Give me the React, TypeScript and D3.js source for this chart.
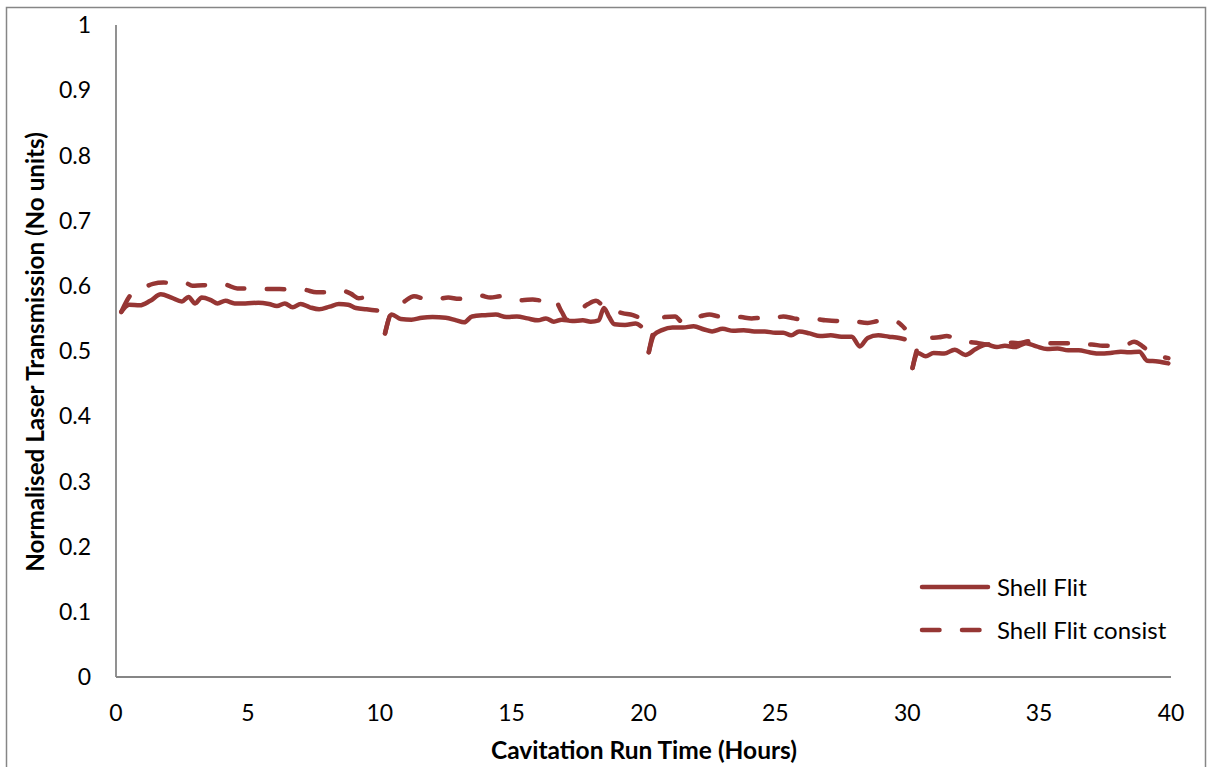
import React from "react";
import * as d3 from "d3";

const xTicks = [0, 5, 10, 15, 20, 25, 30, 35, 40];
const yTicks = [0, 0.1, 0.2, 0.3, 0.4, 0.5, 0.6, 0.7, 0.8, 0.9, 1];
const seriesNames = ["Shell Flit", "Shell Flit consist"];

// NaN separates the four run blocks (0-10, 10-20, 20-30, 30-40 h)
const solidHours = [
  0.2, 0.5, 0.9, 1.3, 1.7, 2.1, 2.5, 2.75, 3.0, 3.25, 3.6, 3.85, 4.15, 4.5, 4.9, 5.4, 5.8, 6.1, 6.4, 6.7, 7.0, 7.35, 7.7, 8.1, 8.45, 8.8, 9.1, 9.5, 9.9,
  NaN,
  10.2, 10.45, 10.8, 11.2, 11.6, 12.0, 12.5, 12.9, 13.2, 13.5, 14.0, 14.4, 14.8, 15.2, 15.6, 16.0, 16.3, 16.6, 16.9, 17.3, 17.7, 18.0, 18.3, 18.5, 18.7, 18.9, 19.3, 19.7, 19.9,
  NaN,
  20.2, 20.4, 20.7, 21.1, 21.5, 21.9, 22.3, 22.6, 23.0, 23.4, 23.8, 24.2, 24.6, 25.0, 25.3, 25.6, 25.9, 26.3, 26.7, 27.1, 27.5, 27.9, 28.2, 28.5, 28.9, 29.3, 29.7, 29.9,
  NaN,
  30.2, 30.4, 30.7, 31.0, 31.4, 31.8, 32.2, 32.6, 33.0, 33.4, 33.7, 34.1, 34.5, 34.9, 35.3, 35.7, 36.1, 36.5, 36.9, 37.3, 37.7, 38.1, 38.4, 38.8, 39.1, 39.5, 39.9,
];
const solidValues = [
  0.560, 0.571, 0.570, 0.577, 0.587, 0.582, 0.576, 0.583, 0.573, 0.582, 0.578, 0.573, 0.577, 0.573, 0.573, 0.574, 0.572, 0.569, 0.573, 0.567, 0.572, 0.567, 0.564, 0.568, 0.572, 0.571, 0.566, 0.564, 0.562,
  NaN,
  0.527, 0.556, 0.549, 0.548, 0.551, 0.552, 0.551, 0.547, 0.544, 0.553, 0.555, 0.556, 0.552, 0.553, 0.550, 0.547, 0.550, 0.545, 0.548, 0.546, 0.547, 0.545, 0.547, 0.566, 0.552, 0.541, 0.540, 0.542, 0.538,
  NaN,
  0.498, 0.525, 0.532, 0.536, 0.536, 0.538, 0.533, 0.530, 0.534, 0.531, 0.532, 0.530, 0.530, 0.528, 0.528, 0.524, 0.530, 0.527, 0.523, 0.524, 0.522, 0.522, 0.507, 0.520, 0.524, 0.522, 0.520, 0.518,
  NaN,
  0.474, 0.497, 0.492, 0.497, 0.496, 0.502, 0.494, 0.503, 0.510, 0.506, 0.508, 0.506, 0.512, 0.507, 0.503, 0.504, 0.501, 0.501, 0.498, 0.496, 0.497, 0.499, 0.498, 0.499, 0.485, 0.484, 0.481,
];

const dashedHours = [
  0.2, 0.6, 1.0, 1.4, 1.8, 2.2, 2.6, 2.9, 3.3, 3.7, 4.1, 4.6, 5.1, 5.6, 6.2, 6.7, 7.1, 7.6, 8.0, 8.5, 8.9, 9.2, 9.6, 9.9,
  NaN,
  10.2, 10.5, 10.9, 11.3, 11.7, 12.1, 12.6, 13.0, 13.4, 13.8, 14.2, 14.6, 15.0, 15.4, 15.8, 16.2, 16.6, 16.9, 17.1, 17.5, 17.9, 18.2, 18.5, 18.9, 19.2, 19.6, 19.9,
  NaN,
  20.2, 20.45, 20.8, 21.2, 21.45, 21.7, 22.1, 22.5, 22.9, 23.3, 23.7, 24.1, 24.5, 24.9, 25.3, 25.7, 26.1, 26.5, 26.9, 27.3, 27.7, 28.1, 28.5, 28.9, 29.3, 29.6, 29.9,
  NaN,
  30.2, 30.45, 30.8, 31.2, 31.5, 31.9, 32.3, 32.7, 33.0, 33.4, 33.8, 34.2, 34.6, 35.0, 35.4, 35.8, 36.2, 36.6, 37.0, 37.4, 37.8, 38.2, 38.6, 38.9, 39.2, 39.6, 39.9,
];
const dashedValues = [
  0.560, 0.588, 0.596, 0.603, 0.605, 0.604, 0.605, 0.600, 0.601, 0.600, 0.602, 0.596, 0.596, 0.595, 0.595, 0.594, 0.594, 0.590, 0.590, 0.593, 0.588, 0.581, 0.583, 0.582,
  NaN,
  0.527, 0.565, 0.575, 0.584, 0.580, 0.579, 0.582, 0.580, 0.583, 0.585, 0.582, 0.584, 0.580, 0.578, 0.579, 0.577, 0.580, 0.560, 0.548, 0.560, 0.572, 0.577, 0.568, 0.562, 0.558, 0.555, 0.550,
  NaN,
  0.498, 0.538, 0.552, 0.553, 0.545, 0.552, 0.553, 0.556, 0.553, 0.553, 0.552, 0.550, 0.551, 0.550, 0.553, 0.550, 0.548, 0.549, 0.547, 0.546, 0.548, 0.545, 0.543, 0.546, 0.547, 0.545, 0.535,
  NaN,
  0.474, 0.510, 0.520, 0.521, 0.523, 0.517, 0.514, 0.512, 0.510, 0.512, 0.513, 0.512, 0.515, 0.516, 0.512, 0.512, 0.512, 0.509, 0.510, 0.508, 0.508, 0.508, 0.514, 0.508, 0.498, 0.492, 0.489,
];

type Pt = { h: number; v: number };

function toSegments(hours: number[], values: number[]): Pt[][] {
  const segs: Pt[][] = [];
  let cur: Pt[] = [];
  hours.forEach((h, i) => {
    const v = values[i];
    if (isNaN(h) || isNaN(v)) {
      if (cur.length) segs.push(cur);
      cur = [];
    } else cur.push({ h, v });
  });
  if (cur.length) segs.push(cur);
  return segs;
}

const COLOR = "#963634";
const AXIS = "#868686";
const FONT = "Lato, 'Open Sans', sans-serif";

export default function App() {
  const W = 1210;
  const H = 767;
  const x = d3.scaleLinear().domain([0, 40]).range([116, 1171]);
  const y = d3.scaleLinear().domain([0, 1]).range([677, 25]);
  const line = d3
    .line<Pt>()
    .x((d) => x(d.h))
    .y((d) => y(d.v))
    .curve(d3.curveMonotoneX);

  const solidSegs = toSegments(solidHours, solidValues);
  const dashedSegs = toSegments(dashedHours, dashedValues);
  const dash = "17.5 22.5";

  return (
    <svg
      width={W}
      height={H}
      style={{ position: "absolute", left: 0, top: 0, background: "#fff" }}
      fontFamily={FONT}
    >
      <rect x={6.5} y={7.5} width={1199} height={800} fill="#fff" stroke={AXIS} strokeWidth={1.5} />

      {/* axes */}
      <line x1={x(0)} x2={x(0)} y1={y(1)} y2={y(0)} stroke={AXIS} strokeWidth={1.8} />
      <line x1={x(0)} x2={x(40)} y1={y(0)} y2={y(0)} stroke={AXIS} strokeWidth={1.8} />

      {yTicks.map((t) => (
        <text key={"y" + t} x={91} y={y(t)} dy="0.36em" textAnchor="end" fontSize={23} fill="#000">
          {d3.format("~g")(t)}
        </text>
      ))}
      {xTicks.map((t) => (
        <text key={"x" + t} x={x(t)} y={713} dy="0.36em" textAnchor="middle" fontSize={23} fill="#000">
          {t}
        </text>
      ))}

      <text x={644} y={750} dy="0.36em" textAnchor="middle" fontSize={24.5} fontWeight="bold" fill="#000">
        Cavitation Run Time (Hours)
      </text>
      <text
        transform={`translate(35,352) rotate(-90)`}
        dy="0.36em"
        textAnchor="middle"
        fontSize={24.2}
        fontWeight="bold"
        fill="#000"
      >
        Normalised Laser Transmission (No units)
      </text>

      {/* series */}
      {solidSegs.map((s, i) => (
        <path key={"s" + i} d={line(s) || ""} fill="none" stroke={COLOR} strokeWidth={4.5} strokeLinecap="round" strokeLinejoin="round" />
      ))}
      {dashedSegs.map((s, i) => (
        <path
          key={"d" + i}
          d={line(s) || ""}
          fill="none"
          stroke={COLOR}
          strokeWidth={4.5}
          strokeLinecap="round"
          strokeLinejoin="round"
          strokeDasharray={dash}
        />
      ))}

      {/* legend */}
      <line x1={922} x2={988} y1={587} y2={587} stroke={COLOR} strokeWidth={4.5} strokeLinecap="round" />
      <text x={997} y={587} dy="0.36em" fontSize={24} fill="#000">{seriesNames[0]}</text>
      <line x1={922} x2={988} y1={630} y2={630} stroke={COLOR} strokeWidth={4.5} strokeLinecap="round" strokeDasharray={dash} />
      <text x={997} y={630} dy="0.36em" fontSize={24} fill="#000">{seriesNames[1]}</text>
    </svg>
  );
}
